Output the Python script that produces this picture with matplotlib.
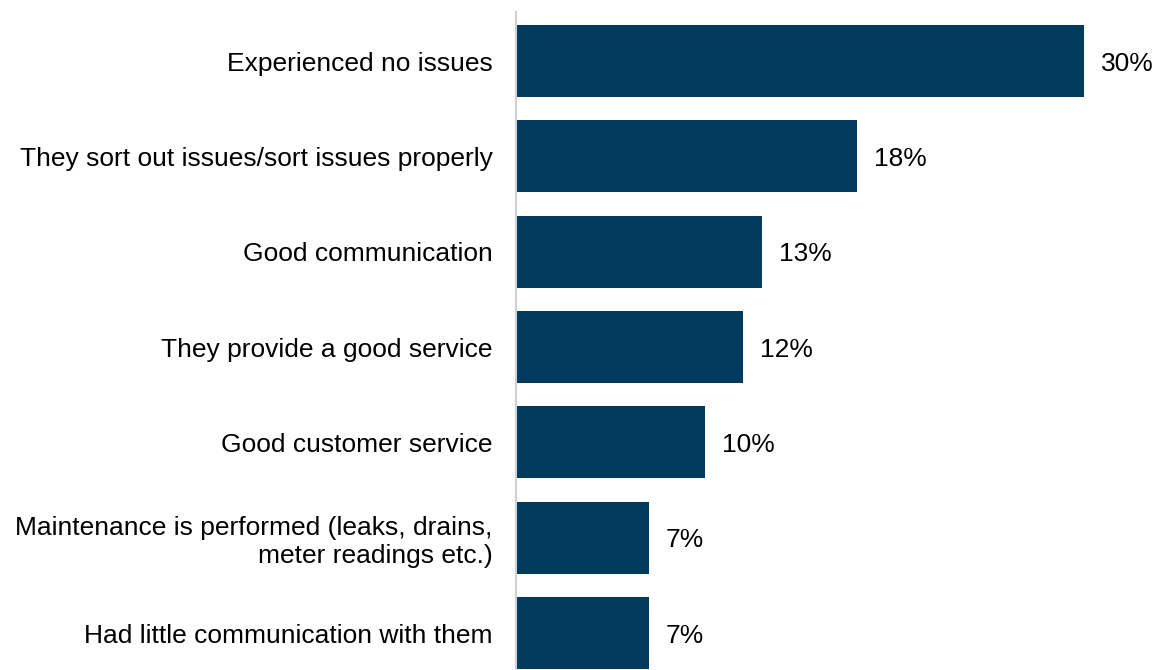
import matplotlib.pyplot as plt

# Reasons given for being satisfied, share of respondents (%)
categories = [
    'Experienced no issues',
    'They sort out issues/sort issues properly',
    'Good communication',
    'They provide a good service',
    'Good customer service',
    'Maintenance is performed (leaks, drains,\nmeter readings etc.)',
    'Had little communication with them',
]
values = [30, 18, 13, 12, 10, 7, 7]

plt.rcParams['font.family'] = ['Liberation Sans', 'DejaVu Sans']

fig = plt.figure(figsize=(11.57, 6.7), dpi=100)
ax = fig.add_axes([516 / 1157, 0, 1 - 516 / 1157, 658 / 670])

y = range(len(categories))
ax.barh(y, values, height=0.755, color='#003A5C')

for i, v in enumerate(values):
    ax.text(v + 0.9, i, f'{v}%', va='center_baseline', ha='left', fontsize=19, color='black')

ax.set_xlim(0, 641 / 18.93)
ax.set_ylim(len(categories) - 1 + 0.388, -0.514)
ax.set_yticks(list(y))
ax.set_yticklabels(categories, fontsize=19, ha='right', multialignment='right')
ax.tick_params(axis='y', length=0, pad=17)
ax.set_xticks([])

for side in ['top', 'right', 'bottom']:
    ax.spines[side].set_visible(False)
ax.spines['left'].set_color('#D0D0D0')
ax.spines['left'].set_linewidth(1.5)

fig.savefig('out.png', dpi=100)
